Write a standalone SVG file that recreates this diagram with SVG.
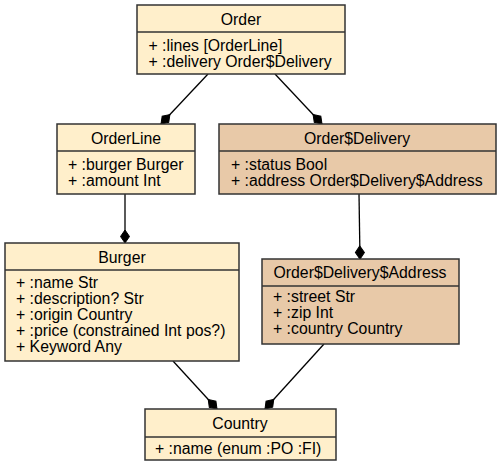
<svg xmlns="http://www.w3.org/2000/svg" width="501" height="469" viewBox="0 0 501 469">
<style>
.box{stroke:#333;stroke-width:1.5}
.light{fill:#ffefcb}
.tan{fill:#e8c9a8}
.div{stroke:#333;stroke-width:1.5}
text{font-family:"Liberation Sans",Arial,Helvetica,sans-serif;font-size:15.8px;fill:#000}
.t{text-anchor:middle}
.edge{stroke:#000;stroke-width:1.3;fill:none}
</style>
<defs>
<marker id="dia" markerUnits="userSpaceOnUse" markerWidth="14" markerHeight="10" refX="13" refY="4.5" orient="auto" overflow="visible">
<path d="M0,4.5 L6.5,0 L13,4.5 L6.5,9 z" fill="#000" stroke="#000" stroke-width="1"/>
</marker>
</defs>
<rect width="501" height="469" fill="#fff"/>
<g id="connectors">
<path class="edge" d="M208,74 L161,124" marker-end="url(#dia)"/>
<path class="edge" d="M275,74 L322,124" marker-end="url(#dia)"/>
<path class="edge" d="M125,194 L125,243" marker-end="url(#dia)"/>
<path class="edge" d="M359,194 L360,259" marker-end="url(#dia)"/>
<path class="edge" d="M173,361 L217,409" marker-end="url(#dia)"/>
<path class="edge" d="M324,344 L265,409" marker-end="url(#dia)"/>
</g>
<g id="Order">
<rect class="box light" x="137" y="5" width="208" height="69"/>
<line class="div" x1="137" y1="32" x2="345" y2="32"/>
<text class="t" x="241" y="24.5">Order</text>
<text x="148.5" y="51">+ :lines [OrderLine]</text>
<text x="148.5" y="67">+ :delivery Order$Delivery</text>
</g>
<g id="OrderLine">
<rect class="box light" x="57" y="124" width="138" height="70"/>
<line class="div" x1="57" y1="151" x2="195" y2="151"/>
<text class="t" x="126" y="143.5">OrderLine</text>
<text x="68" y="170">+ :burger Burger</text>
<text x="68" y="186">+ :amount Int</text>
</g>
<g id="OrderDelivery">
<rect class="box tan" x="219" y="124" width="277" height="70"/>
<line class="div" x1="219" y1="151" x2="496" y2="151"/>
<text class="t" x="357" y="143.5">Order$Delivery</text>
<text x="231" y="170">+ :status Bool</text>
<text x="231" y="186">+ :address Order$Delivery$Address</text>
</g>
<g id="Burger">
<rect class="box light" x="5" y="243" width="234" height="118"/>
<line class="div" x1="5" y1="270" x2="239" y2="270"/>
<text class="t" x="122" y="262.5">Burger</text>
<text x="16" y="288">+ :name Str</text>
<text x="16" y="304">+ :description? Str</text>
<text x="16" y="320">+ :origin Country</text>
<text x="16" y="336">+ :price (constrained Int pos?)</text>
<text x="16" y="352">+ Keyword Any</text>
</g>
<g id="OrderDeliveryAddress">
<rect class="box tan" x="262" y="259" width="197" height="85"/>
<line class="div" x1="262" y1="286" x2="459" y2="286"/>
<text class="t" x="360" y="278">Order$Delivery$Address</text>
<text x="273" y="302">+ :street Str</text>
<text x="273" y="318">+ :zip Int</text>
<text x="273" y="334">+ :country Country</text>
</g>
<g id="Country">
<rect class="box light" x="145" y="409" width="191" height="51"/>
<line class="div" x1="145" y1="437" x2="336" y2="437"/>
<text class="t" x="240" y="428.5">Country</text>
<text x="155" y="454">+ :name (enum :PO :FI)</text>
</g>
</svg>
